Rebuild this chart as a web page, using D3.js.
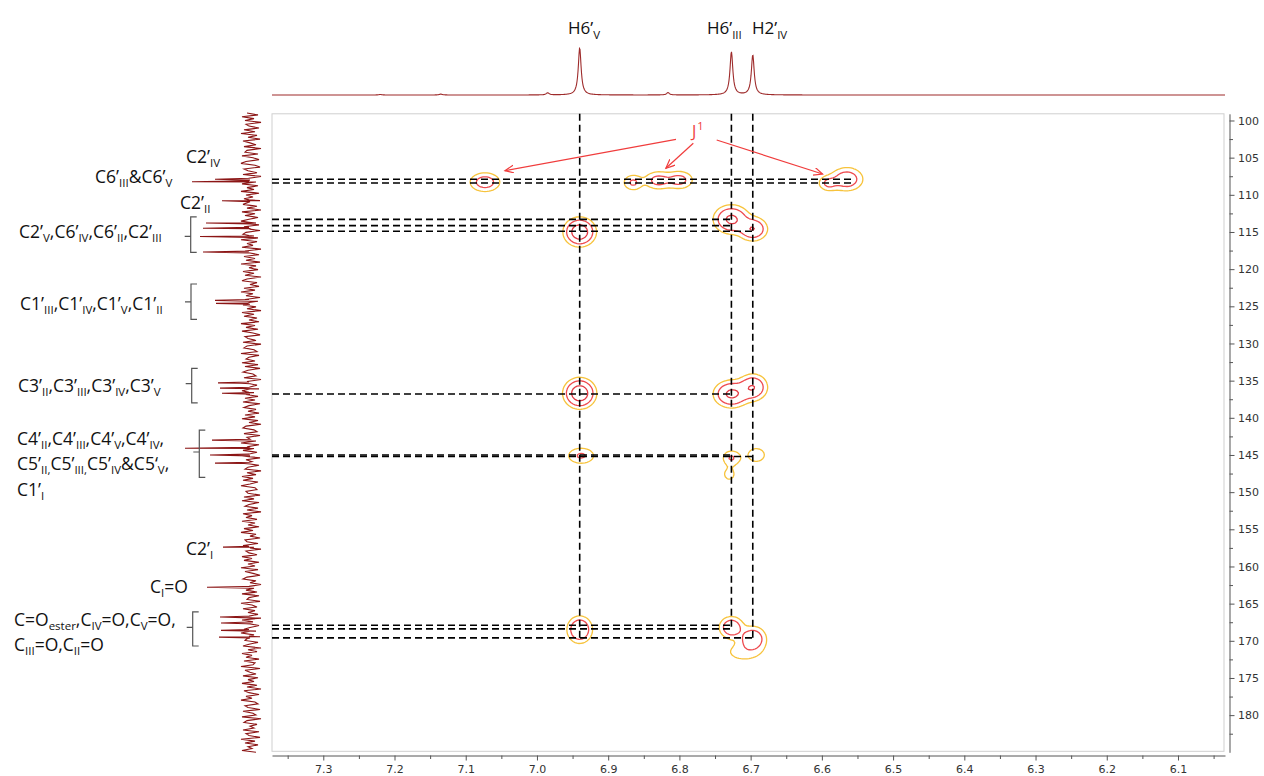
<!DOCTYPE html>
<html><head><meta charset="utf-8">
<script src="https://cdn.jsdelivr.net/npm/d3@7"></script>
<style>body{margin:0;background:#fff}svg{display:block}</style>
</head><body>
<svg id="c" width="1264" height="776"></svg>
<script>
// ---------------- DATA ----------------
const hMajor = [7.3,7.2,7.1,7.0,6.9,6.8,6.7,6.6,6.5,6.4,6.3,6.2,6.1];
const hMinor = [7.35,7.25,7.15,7.05,6.95,6.85,6.75,6.65,6.55,6.45,6.35,6.25,6.15,6.05];
const cMajor = [100,105,110,115,120,125,130,135,140,145,150,155,160,165,170,175,180];
const cMinor = [102.5,107.5,112.5,117.5,122.5,127.5,132.5,137.5,142.5,147.5,152.5,157.5,162.5,167.5,172.5,177.5,182.5];

// 1H projection (top): peak shifts / relative heights
const topShift  = [6.940, 6.727, 6.697, 6.985, 6.816, 7.135, 7.220];
const topHeight = [1.00, 0.915, 0.85, 0.045, 0.05, 0.02, 0.012];

// 13C projection (left): spikes and noise
const sideShift = [107.9,108.24,110.8,113.8,114.5,115.6,117.7,124.2,124.6,135.3,136.0,136.7,143.0,144.1,145.0,146.1,157.4,162.8,166.8,167.6,168.6,169.5];
const sideInt   = [36,59,29,45,48,51,48,36,35,33,31,29,39,66,41,36,28,44,31,30,30,32];
const sideNoise = [4,-7,9,-3,6,-10,5,2,-8,7,-4,10,-6,3,-9,8,1,-5,7,-10,4,6,-7,9,-2,-8,5,10,-4,-9,7,3,-6,8,-10,2,6,-5,9,-7,4,-3,10,-8,5,-2,7,-9,3,8,-6,4,-10,9,-4,6,-7,2,10,-5,-8,7,1,-9,5,8,-3,-7,10,-6,4,-2,9,-10,6,3,-8,7,-4,5,-9,10,-5,2,-7,8,-3,6,-10,4,9,-6,1,-8,7,-4,10,-2,5,-9,6,-7,3,8,-5,4,-10,9,-3,7,-6,2,-8,10,-4,5,-7,9,-2,-9,6,3,-5,8,-10,4,7,-3,-6,10,-8,2,5,-4,9,-7,6,-9,3,8,-2,-5,7,-10,4,10,-6,1,-8,9,-3,5,-7,6,-4,8,-9,2,7,-5,3,-8,6,-4,9,-7,2,-10,5,8,-3,-6,7,-9,4,1,-5,10,-8,3,
  -3,8,-6,2,9,-9,5,-1,7,-8,3,6,-10,4,-5,9,-2,8,-7,1,10,-4,-6,5,3,-9,7,-3,9,-8,2,6,-7,4,-10,8,-1,5,-6,9,-4,3,-8,7,-2,10,-5,1,-9,6,4,-7,8,-3,-10,5,2,-6,9,-1,7,-8,3,-4,10,-7,6,-2,-9,4,8,-5,1,-10,7,-3,5,-6,9,-8,2,4,-9,10,-1,-6,8,-4,3,-7,6,-10,9,-2,5,-8,1,7,-5,10,-3,-9,4,6,-7,2,8,-10,3,-6,9,-1,5,-8,7,-4,-2,10,-9,6,1,-5,8,-7,3,-3,9,-6,4,-10,7,2,-8,5,-1,10,-4,-7,6,3,-9,8,-2,-5,9,-10,4,7,-6,1,-3,8,-8,5,2,-9,10,-4,6,-7,3,-1,9,-5];

// HMBC cross peaks
const crossH   = [7.073,6.865,6.830,6.800,6.591,6.565, 6.940,6.727,6.697, 6.940,6.727,6.697, 6.938,6.727,6.730,6.692, 6.940,6.727,6.697,6.710];
const crossC   = [108.3,108.35,108.05,108.0,108.45,107.9, 115.0,113.3,114.6, 136.7,136.8,135.9, 145.1,145.4,147.6,145.0, 168.5,168.2,169.7,171.5];
const crossAmp = [4,2.9,3.4,3.4,2.9,4.5, 10,7,6, 10,7,6, 2.8,2.7,1.4,1.5, 6,5,5,1.5];
const crossWH  = [0.0125,0.0085,0.0115,0.0115,0.0085,0.013, 0.011,0.013,0.011, 0.0112,0.013,0.011, 0.0122,0.008,0.008,0.0125, 0.0095,0.0095,0.0105,0.020];
const crossWC  = [0.75,0.65,0.72,0.72,0.62,0.9, 0.95,1.0,0.85, 1.0,0.95,0.95, 0.7,0.65,0.8,0.95, 0.98,0.82,0.92,1.0];
const contourLevels = [1, 2.5, 6];

// correlation guide lines
const hLineC   = [107.9,108.4,113.3,114.15,114.9,136.8,145.0,145.2,167.9,168.4,169.6];
const hLineEnd = [6.555,6.555,6.727,6.727,6.697,6.727,6.727,6.697,6.727,6.727,6.697];
const vLineH   = [6.940,6.727,6.697];
const vLineEnd = [169.6,168.4,169.6];

// J1 arrow targets
const arrowH = [7.045, 6.819, 6.599];
const arrowC = [106.76, 106.43, 107.2];

// labels (text parts: [text, subscript?])
const topLabels = [
  [["H6’",0],["V",1]],
  [["H6’",0],["III",1]],
  [["H2’",0],["IV",1]]
];
const sideLabels = [
  [["C2’",0],["IV",1]],
  [["C6’",0],["III",1],["&C6’",0],["V",1]],
  [["C2’",0],["II",1]],
  [["C2’",0],["V",1],[",C6’",0],["IV",1],[",C6’",0],["II",1],[",C2’",0],["III",1]],
  [["C1’",0],["III",1],[",C1’",0],["IV",1],[",C1’",0],["V",1],[",C1’",0],["II",1]],
  [["C3’",0],["II",1],[",C3’",0],["III",1],[",C3’",0],["IV",1],[",C3’",0],["V",1]],
  [["C4’",0],["II",1],[",C4’",0],["III",1],[",C4’",0],["V",1],[",C4’",0],["IV",1],[",",0]],
  [["C5’",0],["II,",1],["C5’",0],["III,",1],["C5’",0],["IV",1],["&C5‘",0],["V",1],[",",0]],
  [["C1’",0],["I",1]],
  [["C2’",0],["I",1]],
  [["C",0],["I",1],["=O",0]],
  [["C=O",0],["ester",1],[",C",0],["IV",1],["=O,C",0],["V",1],["=O,",0]],
  [["C",0],["III",1],["=O,C",0],["II",1],["=O",0]]
];
const sideLabelC = [104.9,107.6,111.1,115.0,124.6,135.6,142.8,146.2,149.6,157.6,162.7,167.2,170.5];
const bracketTop = [112.98,122.0,133.35,141.65,166.1];
const bracketBot = [117.75,126.76,137.98,148.02,170.7];
const bracketMid = [115.6,124.4,135.4,144.6,168.2];

// ---------------- LAYOUT ----------------
const X0 = 272, X1 = 1225, Y0 = 113.8, Y1 = 752.3;
const topLabelX = [568, 707, 752], topLabelY = 34;
const sideLabelX = [186,95,180,19,20,18,17,17,17,186,150,14,14];
const bracketX = [190.7,191,191.7,199.3,192.7];
const arrowFrom = [[676,139.3],[693.3,143.3],[716.7,140]];
const FONT = "'Open Sans', 'Noto Sans', sans-serif";
const AXFONT = "'DejaVu Sans', sans-serif";

const svg = d3.select("#c");
const x = d3.scaleLinear().domain([7.372, 6.034]).range([X0, X1]);
const y = d3.scaleLinear().domain([99.1, 185]).range([Y0, Y1]);

// frame
svg.append("rect").attr("x", X0).attr("y", Y0).attr("width", X1 - X0 - 1).attr("height", Y1 - Y0 - 1)
  .attr("fill", "#fff").attr("stroke", "#cfcfcf").attr("stroke-width", 1);

// ---------------- contours ----------------
const step = 2;
const nx = Math.ceil((X1 - X0) / step), ny = Math.ceil((Y1 - Y0) / step);
const field = new Float64Array(nx * ny);
for (let j = 0; j < ny; j++) {
  const c = y.invert(Y0 + j * step + step / 2);
  for (let i = 0; i < nx; i++) {
    const h = x.invert(X0 + i * step + step / 2);
    let v = 0;
    for (let k = 0; k < crossH.length; k++) {
      const dh = (h - crossH[k]) / crossWH[k], dc = (c - crossC[k]) / crossWC[k];
      const e = dh * dh + dc * dc;
      if (e < 30) v += crossAmp[k] * Math.exp(-e / 2);
    }
    field[j * nx + i] = v;
  }
}
const conts = d3.contours().size([nx, ny]).thresholds(contourLevels)(field);
const cpath = d3.geoPath(d3.geoIdentity().scale(step).translate([X0, Y0]));
const ccol = ["#f7c33c", "#ee4b4f", "#e23a44"];
svg.append("g").selectAll("path").data(conts).join("path")
  .attr("d", cpath).attr("fill", "none")
  .attr("stroke", (d, i) => ccol[i]).attr("stroke-width", 1.3);

// ---------------- dashed lines ----------------
const dash = svg.append("g").attr("stroke", "#000").attr("stroke-width", 1.6).attr("stroke-dasharray", "7,4").attr("fill", "none");
hLineC.forEach((c, i) => dash.append("line").attr("x1", X0).attr("x2", x(hLineEnd[i])).attr("y1", y(c)).attr("y2", y(c)));
vLineH.forEach((h, i) => dash.append("line").attr("x1", x(h)).attr("x2", x(h)).attr("y1", Y0).attr("y2", y(vLineEnd[i])));

// ---------------- axes ----------------
svg.append("g").attr("transform", `translate(0,755.5)`)
  .call(d3.axisBottom(x).tickValues(hMajor).tickSize(5).tickSizeOuter(0).tickPadding(4.5).tickFormat(d3.format(".1f")));
svg.append("g").attr("transform", `translate(0,755.5)`)
  .call(d3.axisBottom(x).tickValues(hMinor).tickSize(3.5).tickSizeOuter(0).tickFormat(""))
  .select(".domain").remove();
svg.append("g").attr("transform", `translate(1229.5,0)`)
  .call(d3.axisRight(y).tickValues(cMajor).tickSize(5).tickSizeOuter(0).tickPadding(3.5).tickFormat(d3.format("d")));
svg.append("g").attr("transform", `translate(1229.5,0)`)
  .call(d3.axisRight(y).tickValues(cMinor).tickSize(3.5).tickSizeOuter(0).tickFormat(""))
  .select(".domain").remove();
svg.selectAll(".domain,.tick line").attr("stroke", "#555");
svg.selectAll(".tick text").attr("font-family", AXFONT).attr("font-size", 11).attr("fill", "#333");

// ---------------- top 1H projection ----------------
const topY = d3.scaleLinear().domain([0, 1]).range([95, 48]);
const hw = 0.0024;
const topPts = d3.range(X0, X1 + 0.5, 0.5).map(px => {
  const p = x.invert(px);
  let v = 0;
  topShift.forEach((s, k) => { const d = (p - s) / hw; v += topHeight[k] / (1 + d * d); });
  return [px, topY(v)];
});
svg.append("path").attr("d", d3.line()(topPts)).attr("fill", "none").attr("stroke", "#9e2b2b").attr("stroke-width", 1.1);

// ---------------- left 13C projection ----------------
const sideX = d3.scaleLinear().domain([0, 60]).range([251, 191]);
const nN = sideNoise.length;
const cLo = 99.0, cHi = 185.0;
let sidePts = sideNoise.map((v, i) => ({ c: cLo + (cHi - cLo) * i / (nN - 1), v: v }));
sideShift.forEach((s, k) => {
  sidePts.push({ c: s - 0.12, v: 2 }, { c: s, v: sideInt[k] }, { c: s + 0.12, v: 1 });
});
sidePts.sort((a, b) => a.c - b.c);
svg.append("path").attr("d", d3.line().x(d => sideX(d.v)).y(d => y(d.c))(sidePts))
  .attr("fill", "none").attr("stroke", "#8b1515").attr("stroke-width", 1.1);

// ---------------- labels ----------------
function rich(g, parts, px, py, size, sub, shift) {
  const t = g.append("text").attr("x", px).attr("y", py).attr("font-family", FONT).attr("font-size", size).attr("fill", "#111");
  let cur = 0;
  parts.forEach(([s, isSub]) => {
    const target = isSub ? shift : 0;
    t.append("tspan").attr("dy", target - cur).attr("font-size", isSub ? sub : size).text(s);
    cur = target;
  });
  return t;
}
const lab = svg.append("g");
topLabels.forEach((p, i) => rich(lab, p, topLabelX[i], topLabelY, 17, 11.5, 5));
sideLabels.forEach((p, i) => rich(lab, p, sideLabelX[i], y(sideLabelC[i]) + 6.5, 17.5, 11.5, 4));

// brackets
const br = svg.append("g").attr("stroke", "#555").attr("stroke-width", 1.2).attr("fill", "none");
bracketTop.forEach((t, i) => {
  const bx = bracketX[i];
  br.append("path").attr("d", `M${bx + 6},${y(t)}H${bx}V${y(bracketBot[i])}H${bx + 6}M${bx - 6},${y(bracketMid[i])}H${bx}`);
});

// ---------------- J1 annotation ----------------
const red = "#f03c3c";
svg.append("defs").append("marker").attr("id", "ah").attr("markerUnits", "userSpaceOnUse")
  .attr("markerWidth", 12).attr("markerHeight", 12).attr("refX", 9).attr("refY", 4).attr("orient", "auto")
  .append("path").attr("d", "M0,0L9,4L0,8").attr("fill", "none").attr("stroke", red).attr("stroke-width", 1.2);
arrowH.forEach((h, i) => {
  svg.append("line").attr("x1", arrowFrom[i][0]).attr("y1", arrowFrom[i][1])
    .attr("x2", x(h)).attr("y2", y(arrowC[i])).attr("stroke", red).attr("stroke-width", 1.2).attr("marker-end", "url(#ah)");
});
const jt = svg.append("text").attr("x", 692).attr("y", 137).attr("font-family", FONT).attr("font-size", 16).attr("fill", red);
jt.append("tspan").text("J");
jt.append("tspan").attr("dy", -7).attr("font-size", 11).attr("dx", 1).text("1");
</script>
</body></html>
